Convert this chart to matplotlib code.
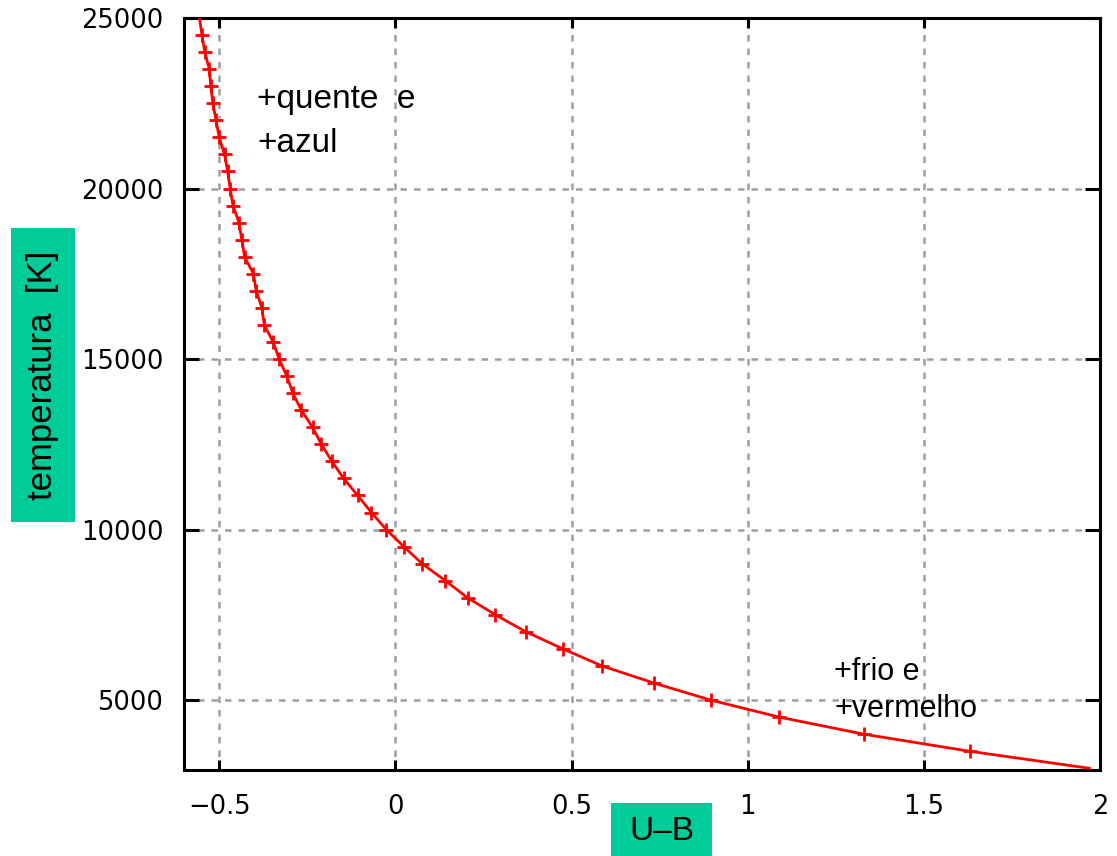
import matplotlib
matplotlib.use("Agg")
import matplotlib.pyplot as plt
from matplotlib.patches import Rectangle

# ---- data ----
temperature_K = [3000, 3500, 4000, 4500, 5000, 5500, 6000, 6500, 7000, 7500,
                 8000, 8500, 9000, 9500, 10000, 10500, 11000, 11500, 12000, 12500,
                 13000, 13500, 14000, 14500, 15000, 15500, 16000, 16500, 17000, 17500,
                 18000, 18500, 19000, 19500, 20000, 20500, 21000, 21500, 22000, 22500,
                 23000, 23500, 24000, 24500, 25000]
u_minus_b = [1.97, 1.63, 1.33, 1.09, 0.895, 0.734, 0.587, 0.476, 0.371, 0.284,
             0.205, 0.142, 0.076, 0.024, -0.026, -0.068, -0.107, -0.147, -0.180, -0.210,
             -0.235, -0.267, -0.291, -0.308, -0.330, -0.347, -0.372, -0.379, -0.395, -0.403,
             -0.428, -0.436, -0.444, -0.461, -0.469, -0.476, -0.485, -0.500, -0.509, -0.518,
             -0.524, -0.528, -0.541, -0.549, -0.556]

x_ticks = [-0.5, 0, 0.5, 1, 1.5, 2]
x_tick_labels = ["\u22120.5", "0", "0.5", "1", "1.5", "2"]
y_ticks = [5000, 10000, 15000, 20000, 25000]
y_tick_labels = ["5000", "10000", "15000", "20000", "25000"]

W, H = 1117, 856
fig = plt.figure(figsize=(W / 100, H / 100), dpi=100)
ax = fig.add_axes([184 / W, (H - 770) / H, (1100 - 184) / W, (770 - 18) / H])

ax.plot(u_minus_b, temperature_K, color="#ff0000", lw=2.0, marker="+",
        markersize=10, markeredgewidth=2.0, markevery=slice(1, -1), zorder=3)

ax.set_xlim(-0.6, 2.0)
ax.set_ylim(2950, 25000)
ax.set_xticks(x_ticks)
ax.set_xticklabels(x_tick_labels)
ax.set_yticks(y_ticks)
ax.set_yticklabels(y_tick_labels)

ax.grid(True, color="#9e9e9e", lw=1.8, linestyle=(0, (2.6, 2.8)), zorder=1)
for s in ax.spines.values():
    s.set_linewidth(2.2)
    s.set_color("black")
ax.tick_params(axis="x", direction="in", length=7.5, width=2.2, top=True,
               pad=17, labelsize=18.5, labelfontfamily="DejaVu Sans")
ax.tick_params(axis="y", direction="in", length=11, width=2.2, right=True,
               pad=15, labelsize=18.5, labelfontfamily="DejaVu Sans")

font = "Liberation Sans"
ax.text(-0.392, 22353, "+quente  e", fontsize=24, family=font, va="baseline", ha="left")
ax.text(-0.392, 21059, "+azul", fontsize=24, family=font, va="baseline", ha="left")
ax.text(1.245, 5588, "+frio e", fontsize=22, family=font, va="baseline", ha="left")
ax.text(1.245, 4500, "+vermelho", fontsize=22, family=font, va="baseline", ha="left")

green = "#00cc99"
# y label box (pixel coordinates converted to figure fraction)
fig.patches.append(Rectangle((11 / W, (H - 522) / H), 64 / W, 294 / H,
                             transform=fig.transFigure, facecolor=green,
                             edgecolor="none", zorder=0))
fig.text(43 / W, (H - 375) / H, "temperatura  [K]", rotation=90, fontsize=25,
         family=font, ha="center", va="center")
# x label box
fig.patches.append(Rectangle((611 / W, 0), 101 / W, (H - 803) / H,
                             transform=fig.transFigure, facecolor=green,
                             edgecolor="none", zorder=0))
fig.text(661.5 / W, (H - 832) / H, "U\u2013B", fontsize=24, family=font,
         ha="center", va="center")

fig.savefig("out.png", dpi=100)
